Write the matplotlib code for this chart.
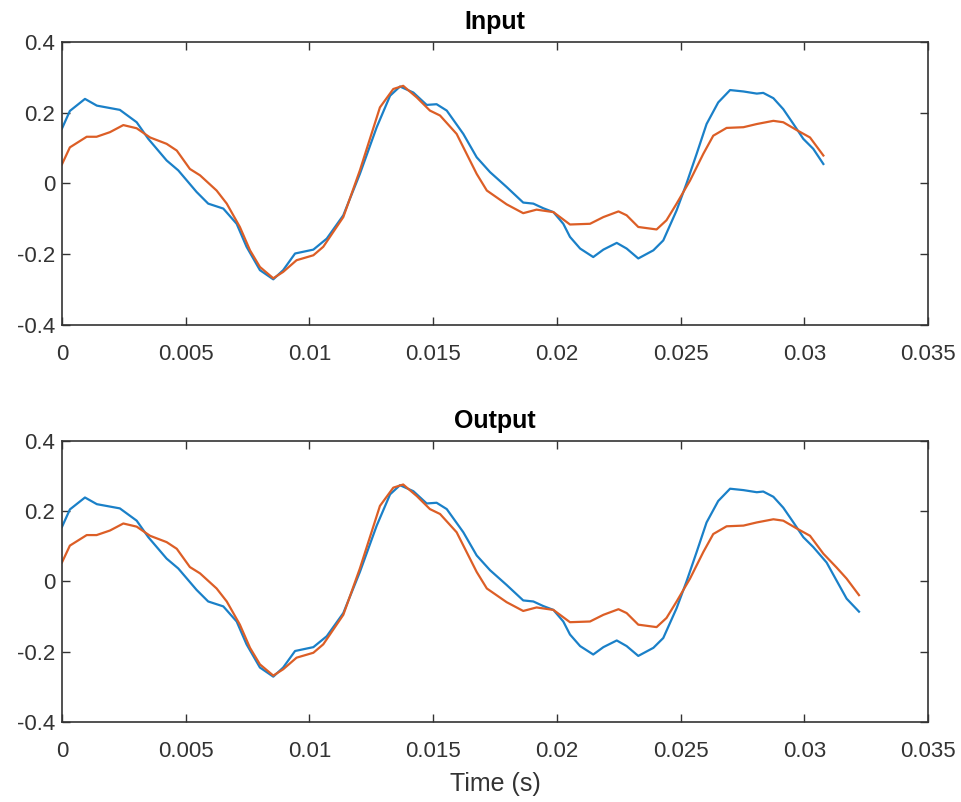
import matplotlib.pyplot as plt

# knots (time in s, amplitude)
in_blue_t = [0.0, 0.00032, 0.00093, 0.00141, 0.00234, 0.00302, 0.00349, 0.00423, 0.0047, 0.00544,
             0.00591, 0.00652, 0.00706, 0.00746, 0.008, 0.00854, 0.00894, 0.00942, 0.01016, 0.0107,
             0.01137, 0.01204, 0.01272, 0.01326, 0.01366, 0.0142, 0.01474, 0.01514, 0.01555, 0.01622,
             0.01676, 0.0173, 0.01797, 0.01864, 0.01905, 0.01945, 0.01986, 0.02026, 0.02053, 0.02094,
             0.02147, 0.02188, 0.02242, 0.02282, 0.02329, 0.0239, 0.0243, 0.02484, 0.02524, 0.02565,
             0.02605, 0.02652, 0.027, 0.02754, 0.02808, 0.02834, 0.02875, 0.02915, 0.02956, 0.02996,
             0.03036, 0.03077]
in_blue_v = [0.155, 0.205, 0.239, 0.22, 0.208, 0.173, 0.126, 0.065, 0.037, -0.024,
             -0.057, -0.071, -0.114, -0.179, -0.245, -0.271, -0.245, -0.198, -0.187, -0.156,
             -0.09, 0.027, 0.159, 0.248, 0.274, 0.257, 0.222, 0.224, 0.206, 0.14,
             0.074, 0.032, -0.01, -0.054, -0.057, -0.07, -0.081, -0.114, -0.151, -0.184,
             -0.208, -0.187, -0.168, -0.184, -0.212, -0.189, -0.161, -0.076, 0.0, 0.084,
             0.168, 0.229, 0.264, 0.26, 0.254, 0.256, 0.241, 0.21, 0.168, 0.126,
             0.098, 0.055]

in_orange_t = [0.0, 0.00032, 0.001, 0.0014, 0.00194, 0.00248, 0.00302, 0.00356, 0.00423, 0.00464,
               0.00517, 0.00558, 0.00625, 0.00666, 0.00719, 0.0076, 0.008, 0.00854, 0.00894, 0.00948,
               0.01016, 0.01056, 0.01137, 0.01204, 0.01285, 0.01339, 0.01379, 0.01434, 0.01487, 0.01528,
               0.01595, 0.01676, 0.01717, 0.01797, 0.01864, 0.01918, 0.01986, 0.02053, 0.02134, 0.02188,
               0.02249, 0.02282, 0.02329, 0.02403, 0.02443, 0.02484, 0.02538, 0.02592, 0.02632, 0.02686,
               0.02754, 0.02808, 0.02875, 0.02915, 0.02969, 0.03023, 0.03077]
in_orange_v = [0.054, 0.102, 0.132, 0.132, 0.145, 0.165, 0.156, 0.13, 0.112, 0.093,
               0.041, 0.023, -0.02, -0.057, -0.123, -0.189, -0.236, -0.268, -0.25, -0.217,
               -0.203, -0.179, -0.095, 0.037, 0.215, 0.267, 0.276, 0.243, 0.206, 0.192,
               0.14, 0.027, -0.02, -0.059, -0.084, -0.074, -0.081, -0.116, -0.114, -0.095,
               -0.079, -0.09, -0.123, -0.13, -0.104, -0.057, 0.008, 0.084, 0.135, 0.157,
               0.159, 0.168, 0.177, 0.173, 0.151, 0.13, 0.079]

# the output record runs a little longer than the input
out_blue_tail_t = [0.0309, 0.0313, 0.03171, 0.03221]
out_blue_tail_v = [0.054, 0.003, -0.049, -0.086]
out_orange_tail_t = [0.0313, 0.03171, 0.03221]
out_orange_tail_v = [0.04, 0.008, -0.039]

x_ticks = [0, 0.005, 0.01, 0.015, 0.02, 0.025, 0.03, 0.035]
x_tick_labels = ["0", "0.005", "0.01", "0.015", "0.02", "0.025", "0.03", "0.035"]
y_ticks = [-0.4, -0.2, 0, 0.2, 0.4]
y_tick_labels = ["-0.4", "-0.2", "0", "0.2", "0.4"]

BLUE = "#1a80c8"
ORANGE = "#dc5e26"
AX_COLOR = "#333333"

plt.rcParams["font.family"] = ["Liberation Sans", "DejaVu Sans"]

fig = plt.figure(figsize=(9.62, 8.02), dpi=100)
ax_in = fig.add_axes([0.0644, 0.5948, 0.9003, 0.3529])
ax_out = fig.add_axes([0.0644, 0.0998, 0.9003, 0.3504])

series = [
    (ax_in, "Input", in_blue_t, in_blue_v, in_orange_t, in_orange_v),
    (ax_out, "Output",
     in_blue_t[:-1] + out_blue_tail_t, in_blue_v[:-1] + out_blue_tail_v,
     in_orange_t + out_orange_tail_t, in_orange_v + out_orange_tail_v),
]

for ax, title, bt, bv, ot, ov in series:
    ax.plot(bt, bv, color=BLUE, linewidth=1.6, solid_joinstyle="round")
    ax.plot(ot, ov, color=ORANGE, linewidth=1.6, solid_joinstyle="round")
    ax.set_xlim(0, 0.035)
    ax.set_ylim(-0.4, 0.4)
    ax.set_xticks(x_ticks)
    ax.set_xticklabels(x_tick_labels)
    ax.set_yticks(y_ticks)
    ax.set_yticklabels(y_tick_labels)
    ax.tick_params(direction="in", length=6, width=1, colors=AX_COLOR,
                   labelsize=16, top=True, right=True)
    ax.tick_params(axis="x", pad=14)
    ax.tick_params(axis="y", pad=5)
    for side in ax.spines.values():
        side.set_color(AX_COLOR)
        side.set_linewidth(1.2)
    ax.set_title(title, fontsize=18, fontweight="bold", color="black", pad=9)

ax_out.set_xlabel("Time (s)", fontsize=18, color=AX_COLOR, labelpad=7)

fig.savefig("out.png", dpi=100)
